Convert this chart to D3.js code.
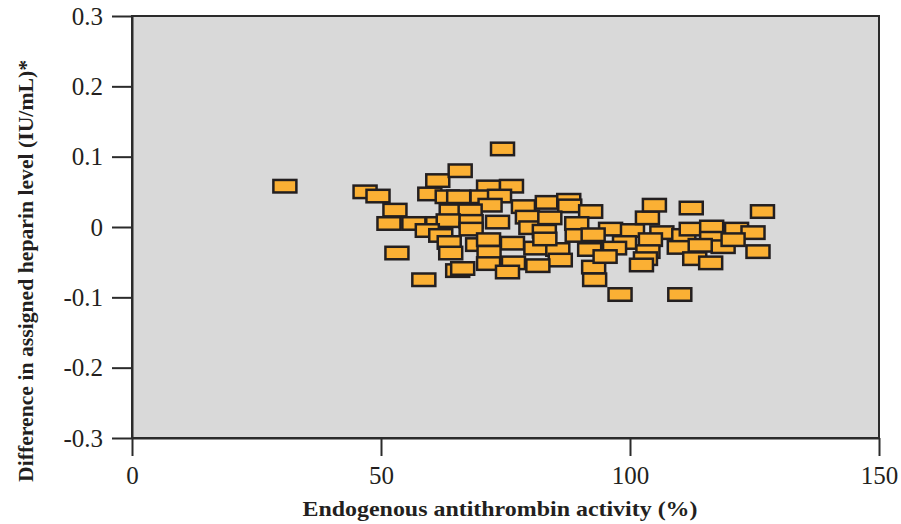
<!DOCTYPE html>
<html lang="en">
<head>
<meta charset="utf-8">
<title>Heparin difference vs antithrombin</title>
<script src="https://d3js.org/d3.v7.min.js"></script>
<style>
    body { margin: 0; background: #fff; }
    text { font-family: "Liberation Serif", "Times New Roman", serif; fill: #231f20; }
</style>
</head>
<body>
<div id="chart"></div>
<script>
// antithrombin activity (%) for each sample
const activity = [
    30.7, 46.8, 49.4, 52.8, 51.6, 56.6, 53.2, 58.6, 61.4, 59.8,
    65.9, 74.4, 71.6, 76.2, 63.3, 65.6, 70.3, 73.8, 71.9, 78.6,
    83.4, 87.7, 87.9, 64.1, 67.9, 61.4, 63.5, 68.1, 68.1, 73.4,
    79.4, 80.1, 59.3, 62.0, 63.7, 69.4, 71.6, 76.4, 81.1, 64.0,
    71.7, 71.6, 76.6, 75.4, 65.4, 66.4, 82.8, 83.9, 85.5, 86.0,
    81.5, 92.1, 89.3, 89.4, 91.9, 92.7, 92.9, 98.0, 110.0, 96.1,
    92.6, 100.5, 98.9, 96.9, 95.0, 103.5, 104.9, 106.4, 104.1, 103.6,
    103.1, 102.3, 110.8, 112.3, 112.3, 109.9, 113.0, 116.4, 116.4, 118.7,
    116.2, 114.1, 121.4, 124.7, 126.6, 125.7, 120.7, 82.9
];
// difference in assigned heparin level (IU/mL)
const difference = [
    0.058, 0.050, 0.044, 0.024, 0.005, 0.005, -0.037, -0.075, 0.066, 0.047,
    0.080, 0.111, 0.057, 0.058, 0.043, 0.043, 0.043, 0.044, 0.031, 0.029,
    0.035, 0.038, 0.030, 0.023, 0.023, 0.005, 0.009, 0.008, -0.003, 0.007,
    0.014, -0.001, -0.005, -0.012, -0.022, -0.025, -0.018, -0.023, -0.030, -0.037,
    -0.036, -0.052, -0.051, -0.064, -0.062, -0.059, -0.006, 0.013, -0.032, -0.047,
    -0.055, 0.022, 0.005, -0.012, -0.032, -0.057, -0.075, -0.096, -0.096, -0.003,
    -0.011, -0.005, -0.022, -0.030, -0.042, 0.013, 0.031, -0.008, -0.018, -0.035,
    -0.045, -0.054, -0.012, 0.027, -0.003, -0.029, -0.045, 0.000, -0.016, -0.028,
    -0.051, -0.026, -0.003, -0.008, 0.022, -0.035, -0.018, -0.017
];
const xTicks = [0, 50, 100, 150];
const yTicks = [0.3, 0.2, 0.1, 0, -0.1, -0.2, -0.3];
const yTickLabels = ["0.3", "0.2", "0.1", "0", "-0.1", "-0.2", "-0.3"];

const data = activity.map((a, i) => ({ x: a, y: difference[i] }));

const W = 901, H = 524;
const margin = { top: 16, right: 22, bottom: 86, left: 132 };
const width = W - margin.left - margin.right;
const height = H - margin.top - margin.bottom;
const serif = '"Liberation Serif", "Times New Roman", serif';

const svg = d3.select("#chart").append("svg")
    .attr("width", W)
    .attr("height", H);

const g = svg.append("g")
    .attr("transform", `translate(${margin.left},${margin.top})`);

const x = d3.scaleLinear().domain([0, 150]).range([0, width]);
const y = d3.scaleLinear().domain([-0.3, 0.3]).range([height, 0]);

// grey plot panel
g.append("rect")
    .attr("width", width)
    .attr("height", height)
    .attr("fill", "#d9d9d9");

// points (small boxes)
const bw = 23, bh = 12.5;
g.selectAll("rect.pt")
    .data(data)
    .enter()
    .append("rect")
    .attr("class", "pt")
    .attr("x", d => x(d.x) - bw / 2)
    .attr("y", d => y(d.y) - bh / 2)
    .attr("width", bw)
    .attr("height", bh)
    .attr("fill", "#fbb034")
    .attr("stroke", "#231f20")
    .attr("stroke-width", 2.5);

// frame
g.append("rect")
    .attr("width", width)
    .attr("height", height)
    .attr("fill", "none")
    .attr("stroke", "#2b2b2b")
    .attr("stroke-width", 2);

// axes
const yAxis = g.append("g")
    .call(d3.axisLeft(y).tickValues(yTicks).tickFormat((d, i) => yTickLabels[i])
        .tickSizeInner(20).tickSizeOuter(0).tickPadding(9));
const xAxis = g.append("g")
    .attr("transform", `translate(0,${height})`)
    .call(d3.axisBottom(x).tickValues(xTicks).tickFormat(d3.format("d"))
        .tickSizeInner(18).tickSizeOuter(0).tickPadding(10));

[yAxis, xAxis].forEach(ax => {
    ax.attr("font-family", serif).attr("font-size", 25);
    ax.select(".domain").attr("stroke", "#2b2b2b").attr("stroke-width", 2);
    ax.selectAll(".tick line").attr("stroke", "#2b2b2b").attr("stroke-width", 2);
    ax.selectAll(".tick text")
        .attr("font-family", serif)
        .style("font-family", serif)
        .style("font-size", "25px")
        .attr("fill", "#231f20");
});

// axis titles
svg.append("text")
    .attr("x", 500)
    .attr("y", 516)
    .attr("text-anchor", "middle")
    .attr("textLength", 395)
    .attr("lengthAdjust", "spacingAndGlyphs")
    .style("font-size", "22px")
    .style("font-weight", "bold")
    .text("Endogenous antithrombin activity (%)");

svg.append("text")
    .attr("transform", "translate(33,271) rotate(-90)")
    .attr("text-anchor", "middle")
    .attr("textLength", 422)
    .attr("lengthAdjust", "spacingAndGlyphs")
    .style("font-size", "21px")
    .style("font-weight", "bold")
    .text("Difference in assigned heparin level (IU/mL)*");
</script>
</body>
</html>
